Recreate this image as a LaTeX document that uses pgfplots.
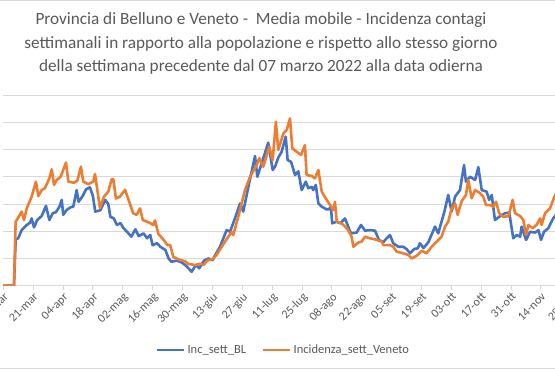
\documentclass[border=0pt]{standalone}
\usepackage{fontspec}
\setmainfont{Carlito}
\usepackage{pgfplots}
\usepackage{pgfplotstable}
\pgfplotsset{compat=1.18}
\definecolor{blBlue}{HTML}{4472C4}
\definecolor{vnOrange}{HTML}{ED7D31}
\definecolor{txtGray}{HTML}{595959}
\definecolor{gridGray}{HTML}{D9D9D9}
\pgfplotstableread{
day val
0 0
5 0
5.8 170
7.0 174
8.6 204
11.0 223
12.5 231
13.3 247
14.4 214
15.9 241
18.0 256
20.0 293
21.6 241
23.2 266
24.7 270
26.3 290
27.4 315
28.1 260
29.7 278
31.6 288
32.8 290
34.4 351
35.3 308
37.2 329
38.8 354
40.6 361
42.0 330
43.1 272
45.5 277
47.8 315
49.2 300
50.2 253
51.8 247
53.3 223
54.9 230
56.4 211
58.0 198
60.0 180
61.9 207
63.5 182
65.8 192
67.4 174
68.9 186
70.0 149
72.1 156
73.6 143
76.0 131
77.5 100
78.8 88
81.4 92
83.8 85
86.1 70
88.3 51
90.3 76
91.9 64
94.1 92
96.1 100
98.2 94
98.9 106
101.6 143
104.7 204
106.3 198
108.6 247
111.0 302
112.5 272
114.9 363
118.0 476
119.1 400
121.9 468
124.2 525
126.3 425
127.4 437
128.9 470
130.5 492
132.4 547
133.3 461
134.9 455
136.8 406
138.3 420
139.9 351
141.8 382
143.0 358
144.6 363
145.3 351
146.5 370
147.7 302
149.3 290
151.6 280
152.4 280
153.6 288
154.2 229
156.3 235
157.9 229
160.2 247
161.7 217
163.0 192
165.7 195
167.7 223
169.6 202
171.9 204
174.3 202
176.1 168
178.2 160
179.7 174
181.3 186
182.8 156
185.2 143
187.5 143
189.1 134
190.7 119
192.7 135
194.3 137
195.3 156
197.0 138
199.3 160
202.4 217
203.9 192
206.8 272
208.6 333
210.2 272
211.8 327
214.1 351
216.0 443
216.9 382
218.8 400
221.2 388
222.7 435
224.3 351
226.6 345
227.8 315
229.0 333
230.5 241
232.5 253
235.2 266
237.2 268
239.1 174
240.7 186
242.3 180
243.0 217
245.1 168
247.0 198
249.3 195
250.9 204
252.1 168
253.5 198
255.5 211
257.8 247
258.7 256
259.5 265
}\tblBL
\pgfplotstableread{
day val
0 0
5 0
5.8 235
7.0 250
8.6 272
9.7 241
11.0 284
13.3 327
15.3 382
16.4 329
18.0 351
19.5 358
21.6 394
22.7 427
23.8 370
25.0 388
26.9 400
29.4 452
30.5 382
33.1 378
34.7 385
36.4 437
37.5 382
39.8 373
42.2 382
43.0 410
45.3 285
47.2 327
49.2 345
50.8 391
51.6 391
52.8 320
54.7 327
57.1 352
58.6 318
60.9 266
62.5 260
64.1 284
65.4 241
68.0 233
70.3 223
71.1 240
72.7 190
75.0 170
76.9 149
78.2 150
79.7 106
82.5 95
85.2 90
86.7 80
89.9 76
92.2 80
93.8 76
95.6 92
98.2 98
100.0 113
102.4 143
105.5 180
107.1 198
107.8 186
110.6 266
113.3 351
115.7 400
118.8 443
120.0 468
121.9 437
124.7 510
126.3 461
127.8 602
128.9 498
131.3 559
132.9 572
134.4 614
135.5 504
137.5 492
139.6 480
141.4 516
142.2 406
144.6 403
146.1 394
147.7 425
149.3 345
151.6 315
153.2 296
154.7 278
155.5 308
156.3 235
158.6 229
160.2 217
161.7 204
163.3 180
164.1 143
166.4 158
168.0 162
169.6 180
171.9 174
174.3 170
177.4 162
178.2 149
181.3 149
182.8 143
184.4 125
187.5 119
189.9 113
191.5 100
193.8 110
196.2 128
198.5 119
200.8 143
203.2 162
205.5 180
207.1 217
208.6 235
210.2 284
211.8 302
213.0 260
214.1 290
215.0 312
216.9 333
218.0 388
219.6 321
221.2 351
223.5 340
225.0 327
226.3 296
228.2 296
229.7 290
231.0 308
232.5 266
234.4 253
236.8 255
238.8 315
239.9 266
242.3 256
243.8 241
245.1 186
246.2 223
248.2 211
250.0 223
251.7 247
252.4 223
254.0 266
256.3 284
258.7 333
259.5 345
}\tblVE
\begin{document}
\begin{tikzpicture}
\begin{axis}[
  at={(3.3bp,84.3bp)}, anchor=south west,
  scale only axis, width=575.9bp, height=190.7bp,
  xmin=0, xmax=270, ymin=0, ymax=700,
  xtick={0,14,...,266},
  xticklabels={07-mar,21-mar,04-apr,18-apr,02-mag,16-mag,30-mag,13-giu,27-giu,11-lug,25-lug,08-ago,22-ago,05-set,19-set,03-ott,17-ott,31-ott,14-nov,28-nov},
  ytick={0,100,...,700}, yticklabels={},
  ymajorgrids, grid style={gridGray, line width=0.8bp},
  axis x line*=bottom, axis y line*=left,
  x axis line style={gridGray, line width=0.8bp, -},
  y axis line style={draw=none},
  ytick style={draw=none},
  xtick style={gridGray, line width=0.8bp},
  tick align=outside, major tick length=4bp,
  xticklabel style={rotate=45, anchor=north east, font=\fontsize{12bp}{14bp}\selectfont, text=txtGray, inner sep=1.5bp},
  legend style={at={(0.4866,-0.337)}, anchor=center, draw=none, fill=none,
    font=\fontsize{12.5bp}{14bp}\selectfont, text=txtGray,
    /tikz/every even column/.append style={column sep=14bp},
    /tikz/every odd column/.append style={column sep=0bp}},
  legend columns=2,
  legend image code/.code={\draw[#1, line width=2.6bp] (0bp,0bp) -- (27bp,0bp);},
]
\addplot[blBlue, line width=2.6bp, line join=round, mark=none] table[x=day, y=val] {\tblBL};
\addlegendentry{Inc\_sett\_BL}
\addplot[vnOrange, line width=2.6bp, line join=round, mark=none] table[x=day, y=val] {\tblVE};
\addlegendentry{Incidenza\_sett\_Veneto}
\end{axis}
\node[align=center, text=txtGray, font=\fontsize{17.2bp}{23.3bp}\selectfont] at (261bp,326.5bp)
  {Provincia di Belluno e Veneto -\ \ Media mobile - Incidenza contagi\\
   settimanali in rapporto alla popolazione e rispetto allo stesso giorno\\
   della settimana precedente dal 07 marzo 2022 alla data odierna};
\draw[gridGray, line width=0.8bp] (0bp,369.3bp) -- (555bp,369.3bp);
\draw[gridGray, line width=0.8bp] (0bp,1.7bp) -- (555bp,1.7bp);
\pgfresetboundingbox
\path[use as bounding box] (0bp,0bp) rectangle (555bp,370bp);
\end{tikzpicture}
\end{document}
